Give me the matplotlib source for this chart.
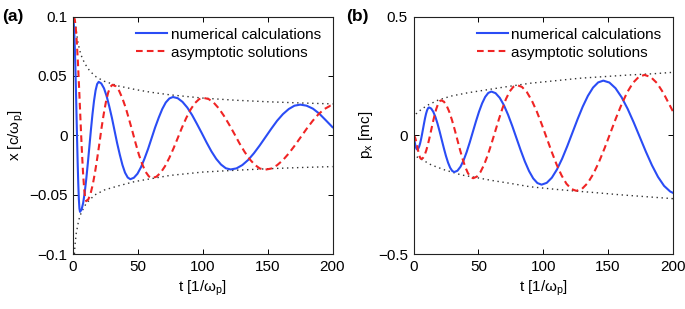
import matplotlib
matplotlib.use("Agg")
import matplotlib.pyplot as plt

plt.rcParams['font.family'] = ['Liberation Sans', 'DejaVu Sans']
plt.rcParams['mathtext.fontset'] = 'custom'
plt.rcParams['mathtext.rm'] = 'Liberation Sans'
plt.rcParams['mathtext.it'] = 'Liberation Sans:italic'

# ---------------- panel (a): x(t) ----------------
t_num_a = [0, 0.45, 0.9, 1.35, 1.8, 2.25, 2.7, 3.15, 3.6, 4.05, 4.5, 4.95, 5.4,
           6.6, 7.8, 9.0, 10.2, 11.4, 12.6, 13.8, 15.0, 16.2, 17.4, 18.6, 19.8,
           21.8, 23.9, 25.9, 27.9, 30.0, 32.0, 34.0, 36.1, 38.1, 40.1, 42.2, 44.2,
           46.9, 49.7, 52.4, 55.1, 57.9, 60.6, 63.3, 66.1, 68.8, 71.5, 74.3, 77.0,
           80.7, 84.4, 88.1, 91.8, 95.5, 99.3, 103.0, 106.7, 110.4, 114.1, 117.8, 121.5,
           126.0, 130.5, 135.0, 139.4, 143.9, 148.4, 152.9, 157.3, 161.8, 166.3, 170.7, 175.2,
           180.0, 184.9, 189.7, 194.5, 200]
x_num_a = [0.100, 0.0972, 0.089, 0.0759, 0.0589, 0.0391, 0.0178, -0.0036, -0.0234, -0.0404, -0.0535, -0.0617, -0.0645,
           -0.0626, -0.0572, -0.0485, -0.0371, -0.0239, -0.0098, 0.0044, 0.0176, 0.0290, 0.0377, 0.0431, 0.045,
           0.0436, 0.0395, 0.033, 0.0245, 0.0146, 0.004, -0.0066, -0.0165, -0.025, -0.0315, -0.0356, -0.037,
           -0.0358, -0.0324, -0.0269, -0.0197, -0.0114, -0.0024, 0.0066, 0.0149, 0.0221, 0.0276, 0.0310, 0.0322,
           0.0312, 0.0281, 0.0233, 0.0170, 0.0096, 0.0017, -0.0062, -0.0136, -0.0199, -0.0247, -0.0278, -0.0288,
           -0.0279, -0.0251, -0.0208, -0.0152, -0.0086, -0.0015, 0.0056, 0.0122, 0.0178, 0.0221, 0.0249, 0.0258,
           0.0249, 0.0224, 0.0183, 0.0130, 0.0068]

t_asy_a = [0.6, 1.4, 2.2, 3.0, 3.8, 4.6, 5.4, 6.2, 7.0, 7.8, 8.6, 9.4, 10.2,
           11.9, 13.6, 15.3, 17.0, 18.7, 20.4, 22.0, 23.7, 25.4, 27.1, 28.8, 30.5,
           33.0, 35.6, 38.1, 40.7, 43.2, 45.8, 48.3, 50.8, 53.4, 55.9, 58.5, 61.0,
           64.3, 67.6, 70.9, 74.2, 77.5, 80.75, 84.0, 87.3, 90.6, 93.9, 97.2, 100.5,
           104.5, 108.4, 112.4, 116.3, 120.3, 124.3, 128.2, 132.2, 136.1, 140.1, 144.0, 148.0,
           152.6, 157.2, 161.75, 166.3, 170.9, 175.5, 180.1, 184.7, 189.25, 193.8, 198.4, 200]
x_asy_a = [0.100, 0.0974, 0.0896, 0.0772, 0.0611, 0.0424, 0.0223, 0.0021, -0.0166, -0.0327, -0.0451, -0.0529, -0.0555,
           -0.0538, -0.0489, -0.0412, -0.031, -0.0192, -0.0065, 0.0062, 0.018, 0.0282, 0.0359, 0.0408, 0.0425,
           0.0412, 0.0373, 0.0310, 0.0229, 0.0134, 0.0033, -0.0069, -0.0164, -0.0245, -0.0307, -0.0347, -0.036,
           -0.0349, -0.0315, -0.0261, -0.0191, -0.011, -0.0023, 0.0065, 0.0146, 0.0216, 0.0270, 0.0304, 0.0315,
           0.0305, 0.0275, 0.0226, 0.0164, 0.0091, 0.0013, -0.0066, -0.0139, -0.0201, -0.0249, -0.0280, -0.029,
           -0.0281, -0.0253, -0.0210, -0.0153, -0.0087, -0.0016, 0.0055, 0.0121, 0.0178, 0.0221, 0.0249, 0.0251]

t_env_a = [1.4, 2, 3, 4, 6, 9, 13, 18, 24, 35, 48, 60, 75, 100, 125, 150, 175, 200]
env_up_a = [0.1, 0.093, 0.084, 0.077, 0.068, 0.0605, 0.054, 0.049, 0.0455,
            0.0415, 0.0385, 0.0362, 0.034, 0.0313, 0.0295, 0.0282, 0.0272, 0.0264]
t_envl_a = [1.1, 1.5, 2.5, 4.4, 6.4, 10.2, 16.7, 24.4, 34.7, 47.6, 58, 75, 100, 125, 150, 175, 200]
env_lo_a = [-0.1, -0.093, -0.0826, -0.0714, -0.065, -0.0573, -0.0503, -0.046,
            -0.0427, -0.039, -0.037, -0.0338, -0.031, -0.0295, -0.0282, -0.0272, -0.0264]

# ---------------- panel (b): p_x(t) ----------------
t_num_b = [0, 0.45, 0.9, 1.35, 1.8, 2.3, 2.8,
           3.57, 4.33, 5.1, 5.87, 6.63, 7.4, 8.17, 8.93, 9.7, 10.47, 11.23, 12.0,
           13.63, 15.25, 16.88, 18.5, 20.13, 21.75, 23.38, 25.0, 26.63, 28.25, 29.88, 31.5,
           33.88, 36.25, 38.63, 41.0, 43.38, 45.75, 48.13, 50.5, 52.88, 55.25, 57.63, 60.0,
           63.23, 66.45, 69.68, 72.9, 76.13, 79.35, 82.58, 85.8, 89.03, 92.25, 95.48, 98.7,
           102.67, 106.63, 110.6, 114.57, 118.53, 122.5, 126.47, 130.43, 134.4, 138.37, 142.33, 146.3,
           150.98, 155.67, 160.35, 165.03, 169.72, 174.4, 179.08, 183.77, 188.45, 193.13, 197.82, 200]
p_num_b = [0.0, -0.013, -0.028, -0.040, -0.050, -0.057, -0.060,
           -0.057, -0.0481, -0.0341, -0.0158, 0.0056, 0.0285, 0.0514, 0.0728, 0.0911, 0.1051, 0.114, 0.117,
           0.1124, 0.0988, 0.0772, 0.049, 0.0162, -0.019, -0.0542, -0.087, -0.1152, -0.1368, -0.1504, -0.155,
           -0.1492, -0.1323, -0.1053, -0.0703, -0.0294, 0.0145, 0.0584, 0.0993, 0.1343, 0.1613, 0.1782, 0.184,
           0.1773, 0.1577, 0.1266, 0.086, 0.0388, -0.012, -0.0628, -0.11, -0.1506, -0.1817, -0.2013, -0.208,
           -0.2005, -0.1787, -0.1438, -0.0985, -0.0457, 0.011, 0.0677, 0.1205, 0.1658, 0.2007, 0.2225, 0.23,
           0.2219, 0.1982, 0.1604, 0.1113, 0.054, -0.0075, -0.069, -0.1263, -0.1754, -0.2132, -0.2369, -0.2426]

t_asy_b = [0, 0.5, 1.0, 1.5, 2.0, 2.5, 3.0, 3.5, 4.0, 4.5, 5.0, 5.5, 6.0,
           7.28, 8.57, 9.85, 11.13, 12.42, 13.7, 14.98, 16.27, 17.55, 18.83, 20.12, 21.4,
           23.45, 25.5, 27.55, 29.6, 31.65, 33.7, 35.75, 37.8, 39.85, 41.9, 43.95, 46.0,
           48.82, 51.63, 54.45, 57.27, 60.08, 62.9, 65.72, 68.53, 71.35, 74.17, 76.98, 79.8,
           83.61, 87.42, 91.23, 95.03, 98.84, 102.65, 106.46, 110.27, 114.08, 117.88, 121.69, 125.5,
           129.88, 134.25, 138.63, 143.0, 147.38, 151.75, 156.13, 160.5, 164.88, 169.25, 173.63, 178.0,
           182.83, 187.67, 192.5, 197.33, 200]
p_asy_b = [0.0, -0.0017, -0.0067, -0.0146, -0.025, -0.037, -0.05, -0.063, -0.075, -0.0854, -0.0933, -0.0983, -0.1,
           -0.0958, -0.0835, -0.0638, -0.0383, -0.0085, 0.0235, 0.0555, 0.0853, 0.1108, 0.1305, 0.1428, 0.147,
           0.1414, 0.125, 0.099, 0.065, 0.0255, -0.017, -0.0595, -0.099, -0.133, -0.159, -0.1754, -0.181,
           -0.1743, -0.1547, -0.1236, -0.083, -0.0358, 0.015, 0.0658, 0.113, 0.1536, 0.1847, 0.2043, 0.211,
           0.2034, 0.1812, 0.1458, 0.0998, 0.0461, -0.0115, -0.0691, -0.1228, -0.1688, -0.2042, -0.2264, -0.234,
           -0.2257, -0.2013, -0.1625, -0.112, -0.0532, 0.01, 0.0732, 0.132, 0.1825, 0.2213, 0.2457, 0.254,
           0.2453, 0.2196, 0.1787, 0.128, 0.100]

t_env_b = [0, 2, 6, 11, 19, 29, 42, 55, 70, 90, 110, 128, 150, 167, 185, 200]
env_up_b = [0.071, 0.09, 0.109, 0.127, 0.148, 0.165, 0.179, 0.19, 0.203,
            0.219, 0.23, 0.24, 0.248, 0.254, 0.259, 0.265]
t_envl_b = [0, 2.2, 6, 13.7, 24, 36.8, 47.2, 60, 75, 90, 110, 125, 141, 160, 180, 200]
env_lo_b = [-0.075, -0.09, -0.101, -0.125, -0.146, -0.167, -0.177, -0.19, -0.203,
            -0.217, -0.228, -0.235, -0.242, -0.251, -0.259, -0.267]

labels = ['numerical calculations', 'asymptotic solutions']
xticks = [0, 50, 100, 150, 200]
yticks_a = [-0.1, -0.05, 0, 0.05, 0.1]
yticklabels_a = ['\u22120.1', '\u22120.05', '0', '0.05', '0.1']
yticks_b = [-0.5, 0, 0.5]
yticklabels_b = ['\u22120.5', '0', '0.5']

BLUE = '#2a4cf5'
RED = '#f02424'
FS = 11

fig = plt.figure(figsize=(6.85, 3.09), dpi=100)
ax_a = fig.add_axes([73 / 685, 55 / 309, 259.5 / 685, 237.5 / 309])
ax_b = fig.add_axes([413.5 / 685, 55 / 309, 259.5 / 685, 237.5 / 309])


def style(ax, yt, ytl, ylim):
    ax.set_xlim(0, 200)
    ax.set_ylim(*ylim)
    ax.set_xticks(xticks)
    ax.set_xticklabels([str(v) for v in xticks], fontsize=FS)
    ax.set_yticks(yt)
    ax.set_yticklabels(ytl, fontsize=FS)
    ax.tick_params(direction='in', length=3.5, width=0.7, top=True, right=True,
                   pad=4, colors='black')
    for s in ax.spines.values():
        s.set_linewidth(0.8)
        s.set_color('#222222')


def draw(ax, t_env, up, t_envl, lo, tn, vn, ta, va):
    ax.plot(t_env, up, color='#333333', lw=1.0, linestyle=(0, (1, 2.6)))
    ax.plot(t_envl, lo, color='#333333', lw=1.0, linestyle=(0, (1, 2.6)))
    l1, = ax.plot(tn, vn, color=BLUE, lw=1.5, solid_joinstyle='round')
    l2, = ax.plot(ta, va, color=RED, lw=1.5, dashes=(3.2, 2.0))
    ax.legend([l1, l2], labels, loc='upper right', frameon=False, fontsize=FS,
              handlelength=2.0, handletextpad=0.25, labelspacing=0.25,
              borderaxespad=0.1, bbox_to_anchor=(0.985, 0.985))


draw(ax_a, t_env_a, env_up_a, t_envl_a, env_lo_a, t_num_a, x_num_a, t_asy_a, x_asy_a)
style(ax_a, yticks_a, yticklabels_a, (-0.1, 0.1))
ax_a.set_xlabel('t [1/\u03c9$_\\mathregular{p}$]', fontsize=FS, labelpad=4)
ax_a.set_ylabel('x [c/\u03c9$_\\mathregular{p}$]', fontsize=FS, labelpad=2)

draw(ax_b, t_env_b, env_up_b, t_envl_b, env_lo_b, t_num_b, p_num_b, t_asy_b, p_asy_b)
style(ax_b, yticks_b, yticklabels_b, (-0.5, 0.5))
ax_b.set_xlabel('t [1/\u03c9$_\\mathregular{p}$]', fontsize=FS, labelpad=4)
ax_b.set_ylabel('p$_\\mathregular{x}$ [mc]', fontsize=FS, labelpad=2)

fig.text(2 / 685, 1 - 16 / 309, '(a)', fontsize=12.5, fontweight='bold', va='center', ha='left')
fig.text(346 / 685, 1 - 16 / 309, '(b)', fontsize=12.5, fontweight='bold', va='center', ha='left')

fig.savefig('out.png', dpi=100)
